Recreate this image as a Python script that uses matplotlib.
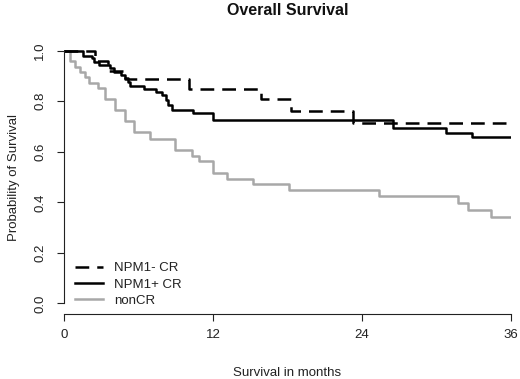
import matplotlib
matplotlib.use("Agg")
import matplotlib.pyplot as plt

# ---- data ----
npm1_neg_t = [0, 2.5, 3.5, 4.9, 10.05, 15.9, 18.3, 23.3]
npm1_neg_s = [1.0, 0.96, 0.92, 0.886, 0.847, 0.807, 0.762, 0.715]

npm1_pos_t = [0, 1.5, 2.2, 2.4, 2.8, 3.7, 4.0, 4.6, 4.9, 5.1, 5.3, 6.4, 7.4,
              7.9, 8.2, 8.4, 8.7, 10.4, 12.0, 26.5, 30.8, 32.9]
npm1_pos_s = [1.0, 0.98, 0.97, 0.955, 0.943, 0.93, 0.915, 0.905, 0.89, 0.875,
              0.86, 0.85, 0.837, 0.824, 0.804, 0.785, 0.765, 0.754, 0.725,
              0.692, 0.675, 0.659]

noncr_t = [0, 0.45, 0.9, 1.3, 1.7, 2.0, 2.7, 3.3, 4.1, 4.9, 5.6, 6.9, 8.9,
           10.3, 10.9, 12.0, 13.1, 15.2, 18.1, 25.4, 31.75, 32.55, 34.4]
noncr_s = [1.0, 0.957, 0.936, 0.915, 0.894, 0.872, 0.851, 0.809, 0.766,
           0.723, 0.68, 0.65, 0.607, 0.585, 0.562, 0.517, 0.494, 0.471,
           0.448, 0.424, 0.396, 0.369, 0.343]

t_end = 36
x_ticks = [0, 12, 24, 36]
y_ticks = [0.0, 0.2, 0.4, 0.6, 0.8, 1.0]
labels = ["NPM1- CR", "NPM1+ CR", "nonCR"]

plt.rcParams['font.family'] = ['Liberation Sans', 'DejaVu Sans']

fig = plt.figure(figsize=(5.2, 3.79), dpi=100)
ax = fig.add_axes([0.1237, 0.1726, 0.8585, 0.7206])


def ext(t, s):
    return list(t) + [t_end], list(s) + [s[-1]]


t, s = ext(noncr_t, noncr_s)
l3, = ax.step(t, s, where='post', color='#a8a8a8', lw=1.8)
t, s = ext(npm1_pos_t, npm1_pos_s)
l2, = ax.step(t, s, where='post', color='black', lw=1.8)
t, s = ext(npm1_neg_t, npm1_neg_s)
l1, = ax.step(t, s, where='post', color='black', lw=1.8, dashes=(5.5, 3.2))

ax.set_xlim(0, 36)
ax.set_ylim(-0.04, 1.04)
for side in ['top', 'right']:
    ax.spines[side].set_visible(False)
ax.spines['left'].set_bounds(0, 1)
ax.spines['bottom'].set_bounds(0, 36)
for side in ['left', 'bottom']:
    ax.spines[side].set_linewidth(0.8)
    ax.spines[side].set_color('#222222')

ax.set_xticks(x_ticks)
ax.set_xticklabels([str(v) for v in x_ticks])
ax.set_yticks(y_ticks)
ax.set_yticklabels([f"{v:.1f}" for v in y_ticks], rotation=90, va='center')
ax.tick_params(axis='both', length=5, width=0.8, color='#222222',
               labelsize=9.5, labelcolor='#222222')
ax.tick_params(axis='x', pad=6)
ax.tick_params(axis='y', pad=8)

ax.set_xlabel("Survival in months", fontsize=9.5, color='#222222', labelpad=19)
ax.set_ylabel("Probability of Survival", fontsize=9.5, color='#222222', labelpad=10)
fig.text(0.5538, 0.993, "Overall Survival", ha='center', va='top',
         fontsize=11.5, fontweight='bold', color='#111111')

ax.legend([l1, l2, l3], labels, loc='lower left', bbox_to_anchor=(0.024, 0.025),
          frameon=False, fontsize=9.5, handlelength=2.1, handletextpad=0.85,
          labelspacing=0.3, borderaxespad=0, borderpad=0,
          labelcolor='#222222')

fig.savefig("out.png", dpi=100)
